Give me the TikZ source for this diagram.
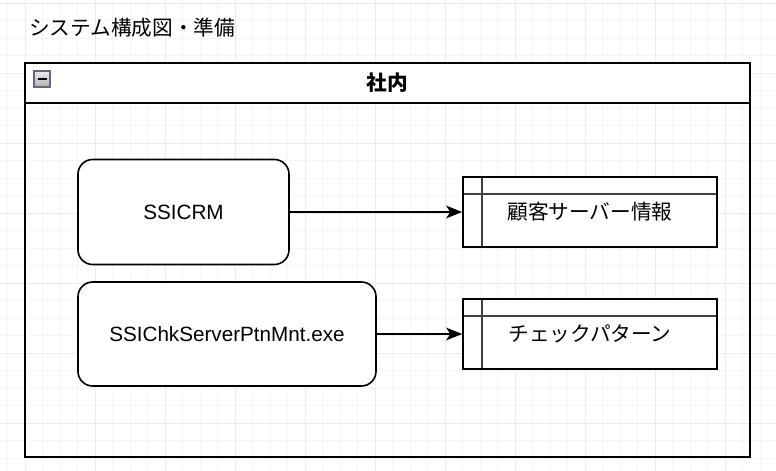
\documentclass[tikz,border=0pt]{standalone}
\usepackage{fontspec}
\setmainfont{Liberation Sans}
\newfontfamily\jp{Noto Sans CJK JP}
\usetikzlibrary{arrows.meta}
\tikzset{
  rbox/.style={draw=black, line width=1.2pt, fill=white, rounded corners=11pt, inner sep=0pt, font=\fontsize{15.5}{18}\selectfont},
  tbox/.style={draw=black, line width=1.2pt, fill=white, inner sep=0pt, minimum width=190.5pt, minimum height=52.5pt, font=\jp\fontsize{15.5}{18}\selectfont},
  arr/.style={line width=1.1pt, -{Stealth[length=12pt,width=9.5pt,inset=3pt]}},
  inner/.style={draw=black!75, line width=1pt},
  cont/.style={draw=black, line width=1.5pt}
}
\begin{document}
\begin{tikzpicture}[x=0.75pt,y=-0.75pt]
\useasboundingbox (0,0) rectangle (776,471);
\fill[white] (0,0) rectangle (776,471);
% grid
\foreach \i in {0,...,45} {
  \pgfmathsetmacro\gx{7.5+17.5*\i}
  \draw[black!4, line width=0.5pt] (\gx,0) -- (\gx,471);
}
\foreach \i in {0,...,27} {
  \pgfmathsetmacro\gy{3+17.5*\i}
  \draw[black!4, line width=0.5pt] (0,\gy) -- (776,\gy);
}
\foreach \i in {0,...,11} {
  \pgfmathsetmacro\gx{25+70*\i}
  \draw[black!8, line width=0.5pt] (\gx,0) -- (\gx,471);
}
\foreach \i in {0,...,6} {
  \pgfmathsetmacro\gy{3+70*\i}
  \draw[black!8, line width=0.5pt] (0,\gy) -- (776,\gy);
}
% title
\node[anchor=west, inner sep=0pt, font=\jp\fontsize{15.5}{18}\selectfont] (title) at (29,28) {システム構成図・準備};
% container
\coordinate (cNW) at (25,63);
\coordinate (cSE) at (750,457);
\fill[white] (25,63) rectangle (750,103);
\draw[cont] (cNW) rectangle (cSE);
\draw[cont] (25,103) -- (750,103);
\node[font=\jp\bfseries\fontsize{15.5}{18}\selectfont, inner sep=0pt] (hdr) at (387.5,83) {社内};
% collapse icon
\node[draw=black!45!blue!20!gray, line width=1pt, top color=black!8, bottom color=black!30, minimum width=12pt, minimum height=12pt, inner sep=0pt] (icon) at (42,79) {};
\draw[line width=2pt] (37.5,79) -- (46.5,79);
% boxes
\node[rbox, minimum width=158.25pt, minimum height=78.75pt] (crm) at (183.5,212) {SSICRM};
\node[rbox, minimum width=223.5pt, minimum height=78pt] (exe) at (227,334) {SSIChkServerPtnMnt.exe};
% tables
\node[tbox] (t1) at (590,212) {};
\draw[inner] (463,194) -- (717,194);
\draw[inner] (482,177) -- (482,247);
\draw[line width=1.2pt] (463,177) rectangle (717,247);
\node[font=\jp\fontsize{15.5}{18}\selectfont, inner sep=0pt] (t1l) at (590,212) {顧客サーバー情報};
\node[tbox] (t2) at (590,334) {};
\draw[inner] (463,316) -- (717,316);
\draw[inner] (482,299) -- (482,369);
\draw[line width=1.2pt] (463,299) rectangle (717,369);
\node[font=\jp\fontsize{15.5}{18}\selectfont, inner sep=0pt] (t2l) at (590,334) {チェックパターン};
% arrows
\draw[arr] (crm.east) -- (crm.east -| t1.west);
\draw[arr] (exe.east) -- (exe.east -| t2.west);
\end{tikzpicture}
\end{document}
